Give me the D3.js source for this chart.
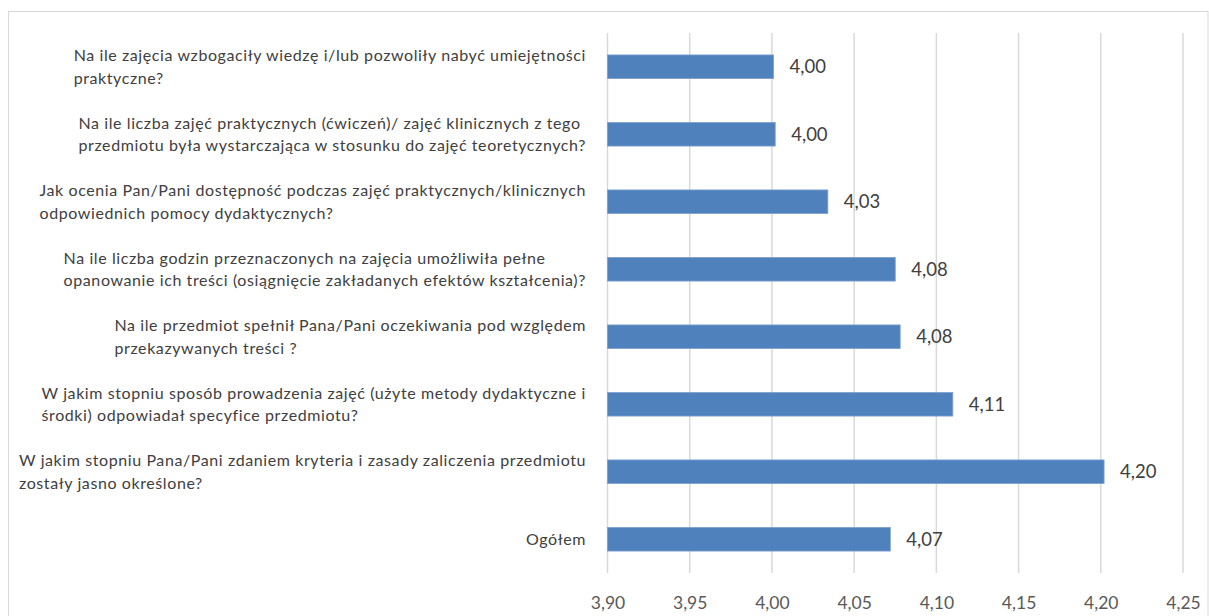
<!DOCTYPE html>
<html>
<head>
<meta charset="utf-8">
<script src="https://cdn.jsdelivr.net/npm/d3@7"></script>
<style>
  html, body { margin: 0; padding: 0; background: #fff; }
  svg { display: block; }
  text { font-family: Lato, "Open Sans", sans-serif; }
</style>
</head>
<body>
<svg id="chart" width="1209" height="616"></svg>
<script>
// Categories, top to bottom, pre-wrapped into lines as in the reference
const categories = [
  ["Na ile zajęcia wzbogaciły wiedzę i/lub pozwoliły nabyć umiejętności", "praktyczne?"],
  ["Na ile liczba zajęć praktycznych (ćwiczeń)/ zajęć klinicznych z tego", "przedmiotu była wystarczająca w stosunku do zajęć teoretycznych?"],
  ["Jak ocenia Pan/Pani dostępność podczas zajęć praktycznych/klinicznych", "odpowiednich pomocy dydaktycznych?"],
  ["Na ile liczba godzin przeznaczonych na zajęcia umożliwiła pełne", "opanowanie ich treści (osiągnięcie zakładanych efektów kształcenia)?"],
  ["Na ile przedmiot spełnił Pana/Pani oczekiwania pod względem", "przekazywanych treści ?"],
  ["W jakim stopniu sposób prowadzenia zajęć (użyte metody dydaktyczne i", "środki) odpowiadał specyfice przedmiotu?"],
  ["W jakim stopniu Pana/Pani zdaniem kryteria i zasady zaliczenia przedmiotu", "zostały jasno określone?"],
  ["Ogółem"]
];
const values = [4.001, 4.002, 4.034, 4.075, 4.078, 4.110, 4.202, 4.072];
const xTicks = [3.90, 3.95, 4.00, 4.05, 4.10, 4.15, 4.20, 4.25];
const xDomain = [3.90, 4.25];

const svg = d3.select("#chart");
const fmt = v => d3.format(".2f")(v).replace(".", ",");

// chart border
svg.append("rect")
  .attr("x", 8.5).attr("y", 11.5)
  .attr("width", 1199.5).attr("height", 640)
  .attr("fill", "none").attr("stroke", "#d9d9d9").attr("stroke-width", 1);

const plotLeft = 607.5, plotRight = 1183, plotTop = 33, plotBottom = 573;
const x = d3.scaleLinear().domain(xDomain).range([plotLeft, plotRight]);
const idx = d3.range(categories.length);
const y = d3.scaleBand().domain(idx).range([plotTop, plotBottom])
  .paddingInner(0.65).paddingOuter(0.325);

// gridlines
svg.append("g").selectAll("line").data(xTicks).join("line")
  .attr("x1", d => x(d)).attr("x2", d => x(d))
  .attr("y1", plotTop).attr("y2", plotBottom)
  .attr("stroke", "#d9d9d9").attr("stroke-width", 1.5);

// x axis labels
const xAxis = d3.axisBottom(x).tickValues(xTicks).tickFormat(fmt).tickSize(0).tickPadding(0);
const gx = svg.append("g").attr("transform", `translate(0, ${plotBottom + 30})`).call(xAxis);
gx.select(".domain").remove();
gx.selectAll("text")
  .attr("dy", "0.35em")
  .attr("font-size", 17.5).attr("fill", "#595959")
  .style("font-family", "Lato, 'Open Sans', sans-serif");

// bars
svg.append("g").selectAll("rect").data(values).join("rect")
  .attr("x", x(xDomain[0]))
  .attr("y", (d, i) => y(i))
  .attr("width", d => x(d) - x(xDomain[0]))
  .attr("height", y.bandwidth())
  .attr("fill", "#4f81bd")
  .attr("stroke", "#7f9fcf").attr("stroke-width", 0.8);

// value labels
svg.append("g").selectAll("text").data(values).join("text")
  .attr("x", d => x(d) + 16)
  .attr("y", (d, i) => y(i) + y.bandwidth() / 2)
  .attr("dy", "0.36em")
  .attr("font-size", 18.5).attr("fill", "#404040")
  .text(fmt);

// category labels: left-aligned lines, block right-aligned at labelRight
const labelRight = 586;
const lineH = 22.5;
const gl = svg.append("g");
const labelTexts = [];
categories.forEach((lines, i) => {
  const cy = y(i) + y.bandwidth() / 2;
  const t = gl.append("text")
    .attr("font-size", 16).attr("fill", "#404040");
  const n = lines.length;
  lines.forEach((ln, k) => {
    t.append("tspan")
      .attr("y", cy + (k - (n - 1) / 2) * lineH)
      .attr("dy", "0.35em")
      .text(ln);
  });
  labelTexts.push(t);
});
// widen letter spacing so the widest line matches the reference width
const widest = gl.selectAll("tspan").filter((d, i, nodes) => nodes[i].textContent === categories[6][0]).node();
const targetW = 567;
const ls = (targetW - widest.getComputedTextLength()) / widest.textContent.length;
gl.selectAll("text").attr("letter-spacing", ls);
labelTexts.forEach(t => {
  let maxW = 0;
  t.selectAll("tspan").each(function () {
    maxW = Math.max(maxW, this.getComputedTextLength());
  });
  t.selectAll("tspan").attr("x", labelRight - maxW);
});
</script>
</body>
</html>
